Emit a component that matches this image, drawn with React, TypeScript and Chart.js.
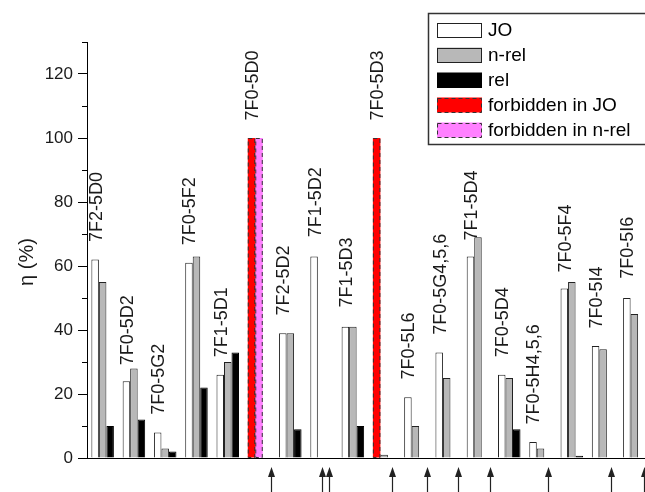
import React, { useEffect, useRef } from 'react';
import { Chart, registerables } from 'chart.js';

Chart.register(...registerables);

// ---- data ----
const categories = [
  '7F2-5D0', '7F0-5D2', '7F0-5G2', '7F0-5F2', '7F1-5D1', '7F0-5D0',
  '7F2-5D2', '7F1-5D2', '7F1-5D3', '7F0-5D3', '7F0-5L6', '7F0-5G4,5,6',
  '7F1-5D4', '7F0-5D4', '7F0-5H4,5,6', '7F0-5F4', '7F0-5I4', '7F0-5I6',
];
const joValues = [62, 24, 8, 61, 26, null, 39, 63, 41, null, 19, 33, 63, 26, 5, 53, 35, 50];
const nRelValues = [55, 28, 3, 63, 30, null, 39, null, 41, 1, 10, 25, 69, 25, 3, 55, 34, 45];
const relValues = [10, 12, 2, 22, 33, null, 9, null, 10, null, null, null, null, 9, null, 0.7, null, null];
const forbiddenJO = [null, null, null, null, null, 100, null, null, null, 100, null, null, null, null, null, null, null, null];
const forbiddenNRel = [null, null, null, null, null, 100, null, null, null, null, null, null, null, null, null, null, null, null];
// η value at which each transition label starts (text runs upward)
const labelAt = [67.5, 29, 13.5, 66.5, 31.5, 105.5, 44.5, 69, 47, 105.5, 24.5, 38.5, 68, 31.5, 10.5, 58, 40.5, 56];
// category positions of the arrows below the axis
const arrowAt = [5.39, 7.02, 7.25, 9.24, 10.37, 11.35, 12.37, 14.23, 16.26, 17.31];
const yMin = 0;
const yMax = 130;
const yStep = 10;
const yTitle = 'η (%)';

const FONT = 'Arial, "Liberation Sans", sans-serif';
const TEXT = '#1a1a1a';
const EDGE = '#333333';

const dashedBars = {
  id: 'dashedBars',
  afterDatasetsDraw(chart: any) {
    const ctx = chart.ctx;
    chart.data.datasets.forEach((ds: any, di: number) => {
      if (!ds.dashed) return;
      const meta = chart.getDatasetMeta(di);
      meta.data.forEach((el: any, i: number) => {
        if (ds.data[i] == null) return;
        const w = el.width;
        const left = el.x - w / 2;
        const top = Math.min(el.y, el.base);
        const h = Math.abs(el.base - el.y);
        ctx.save();
        ctx.strokeStyle = EDGE;
        ctx.lineWidth = 1;
        ctx.setLineDash([4, 3]);
        ctx.strokeRect(left + 0.5, top + 0.5, w - 1, h - 0.5);
        ctx.restore();
      });
    });
  },
};

const groupLabels = {
  id: 'groupLabels',
  afterDatasetsDraw(chart: any) {
    const ctx = chart.ctx;
    const xs = chart.scales.x;
    const ys = chart.scales.y;
    ctx.save();
    ctx.font = '18px ' + FONT;
    ctx.fillStyle = TEXT;
    ctx.textAlign = 'left';
    ctx.textBaseline = 'middle';
    categories.forEach((name, i) => {
      const x = xs.getPixelForValue(i) - 6;
      const y = ys.getPixelForValue(labelAt[i]);
      ctx.save();
      ctx.translate(x, y);
      ctx.rotate(-Math.PI / 2);
      ctx.fillText(name, 0, 0);
      ctx.restore();
    });
    ctx.restore();
  },
};

const axisExtras = {
  id: 'axisExtras',
  afterDraw(chart: any) {
    const ctx = chart.ctx;
    const ys = chart.scales.y;
    const x0 = chart.chartArea.left;
    ctx.save();
    ctx.strokeStyle = '#000';
    ctx.lineWidth = 1;
    for (let v = yMin + yStep; v <= yMax; v += 2 * yStep) {
      const y = Math.round(ys.getPixelForValue(v)) + 0.5;
      ctx.beginPath();
      ctx.moveTo(x0 - 5, y);
      ctx.lineTo(x0, y);
      ctx.stroke();
    }
    // y-axis title
    ctx.font = '20px ' + FONT;
    ctx.fillStyle = TEXT;
    ctx.textAlign = 'center';
    ctx.textBaseline = 'middle';
    ctx.translate(27, (chart.chartArea.top + chart.chartArea.bottom) / 2 + 12);
    ctx.rotate(-Math.PI / 2);
    ctx.fillText(yTitle, 0, 0);
    ctx.restore();
  },
};

const arrows = {
  id: 'arrows',
  afterDraw(chart: any) {
    const ctx = chart.ctx;
    const xs = chart.scales.x;
    const base = chart.chartArea.bottom;
    const bottom = chart.height;
    ctx.save();
    ctx.strokeStyle = '#222';
    ctx.fillStyle = '#222';
    ctx.lineWidth = 1.2;
    arrowAt.forEach((a) => {
      const x = Math.round(xs.getPixelForValue(a)) + 0.5;
      const tip = base + 9;
      ctx.beginPath();
      ctx.moveTo(x, tip + 8);
      ctx.lineTo(x, bottom);
      ctx.stroke();
      ctx.beginPath();
      ctx.moveTo(x, tip);
      ctx.lineTo(x - 3.5, tip + 10);
      ctx.lineTo(x + 3.5, tip + 10);
      ctx.closePath();
      ctx.fill();
    });
    ctx.restore();
  },
};

const boxLegend = {
  id: 'boxLegend',
  afterDraw(chart: any) {
    const ctx = chart.ctx;
    const bx = 428, by = 13, bw = 220, bh = 131;
    ctx.save();
    ctx.fillStyle = '#fff';
    ctx.fillRect(bx, by, bw, bh);
    ctx.strokeStyle = EDGE;
    ctx.lineWidth = 1.5;
    ctx.strokeRect(bx + 0.5, by + 0.5, bw, bh);
    ctx.font = '19px ' + FONT;
    ctx.textBaseline = 'middle';
    ctx.textAlign = 'left';
    chart.data.datasets.forEach((ds: any, i: number) => {
      const cy = 30 + i * 25;
      const sx = 437, sw = 45, sh = 15;
      const sy = cy - sh / 2;
      ctx.fillStyle = ds.backgroundColor;
      ctx.fillRect(sx, sy, sw, sh);
      ctx.lineWidth = 1;
      ctx.strokeStyle = ds.dashed ? EDGE : (ds.borderColor || EDGE);
      ctx.setLineDash(ds.dashed ? [4, 3] : []);
      ctx.strokeRect(sx + 0.5, Math.round(sy) + 0.5, sw - 1, sh - 1);
      ctx.setLineDash([]);
      ctx.fillStyle = '#000';
      ctx.fillText(ds.label, 488, cy + 1);
    });
    ctx.restore();
  },
};

export default function App() {
  const ref = useRef<HTMLCanvasElement>(null);

  useEffect(() => {
    if (!ref.current) return;
    const chart = new Chart(ref.current, {
      type: 'bar',
      data: {
        labels: categories,
        datasets: [
          { label: 'JO', data: joValues, backgroundColor: '#ffffff', borderColor: '#222', borderWidth: 1, stack: 'a' } as any,
          { label: 'n-rel', data: nRelValues, backgroundColor: '#b8b8b8', borderColor: '#222', borderWidth: 1, stack: 'b' } as any,
          { label: 'rel', data: relValues, backgroundColor: '#000000', borderColor: '#000000', borderWidth: 1, stack: 'c' } as any,
          { label: 'forbidden in JO', data: forbiddenJO, backgroundColor: '#ff0000', borderWidth: 0, stack: 'a', dashed: true } as any,
          { label: 'forbidden in n-rel', data: forbiddenNRel, backgroundColor: '#ff80ff', borderWidth: 0, stack: 'b', dashed: true } as any,
        ],
      },
      options: {
        responsive: false,
        animation: false,
        devicePixelRatio: 1,
        datasets: { bar: { categoryPercentage: 0.72, barPercentage: 1 } },
        layout: { padding: { left: 0, right: 10, top: 42, bottom: 34 } },
        plugins: { legend: { display: false }, tooltip: { enabled: false } },
        scales: {
          x: {
            stacked: true,
            grid: { display: false, drawTicks: false },
            border: { display: true, color: '#000', width: 1 },
            ticks: { display: false },
          },
          y: {
            stacked: true,
            min: yMin,
            max: yMax,
            afterFit: (s: any) => { s.width = 87; },
            ticks: {
              stepSize: yStep,
              padding: 5,
              color: TEXT,
              font: { family: FONT, size: 17 },
              callback: (v: any) => (Number(v) % 20 === 0 ? String(v) : ''),
            },
            grid: {
              drawOnChartArea: false,
              drawTicks: true,
              tickLength: 9,
              tickColor: (c: any) => (c.tick && c.tick.value % 20 === 0 ? '#000' : 'rgba(0,0,0,0)'),
            },
            border: { display: true, color: '#000', width: 1 },
            title: { display: false },
          },
        },
      },
      plugins: [dashedBars, groupLabels, axisExtras, arrows, boxLegend],
    } as any);
    return () => chart.destroy();
  }, []);

  return (
    <div style={{ position: 'fixed', left: 0, top: 0, width: 645, height: 492, overflow: 'hidden', background: '#fff' }}>
      <canvas ref={ref} width={660} height={492} style={{ display: 'block' }} />
    </div>
  );
}
